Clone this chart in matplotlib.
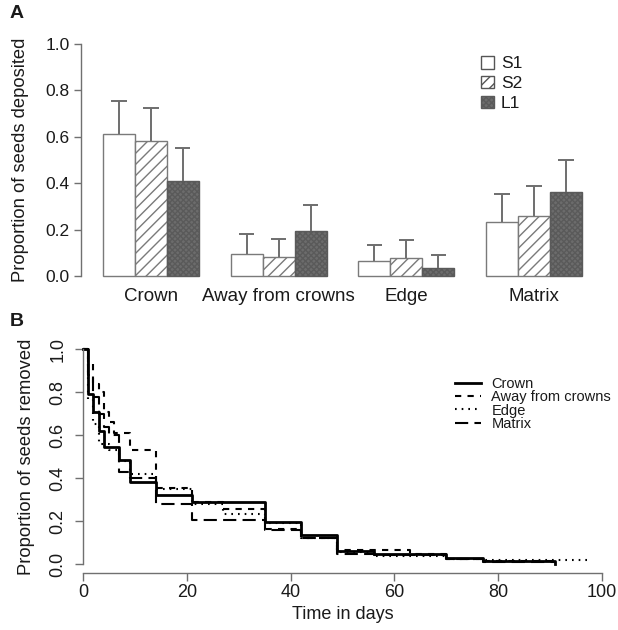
import matplotlib
matplotlib.use("Agg")
import matplotlib.pyplot as plt
from matplotlib.patches import Patch
import numpy as np

plt.rcParams['font.family'] = ['Liberation Sans', 'DejaVu Sans']
plt.rcParams['lines.scale_dashes'] = False

# ---------------- data ----------------
categories = ["Crown", "Away from crowns", "Edge", "Matrix"]
series_names = ["S1", "S2", "L1"]
s1_vals = [0.610, 0.095, 0.063, 0.231]
s2_vals = [0.581, 0.082, 0.078, 0.260]
l1_vals = [0.408, 0.192, 0.036, 0.362]
s1_upper = [0.755, 0.183, 0.134, 0.354]
s2_upper = [0.723, 0.159, 0.154, 0.387]
l1_upper = [0.553, 0.307, 0.091, 0.501]

crown_t = [0, 1, 2, 3, 4, 7, 9, 14, 21, 35, 42, 49, 56, 70, 77, 91]
crown_s = [1.0, 0.79, 0.71, 0.62, 0.545, 0.485, 0.38, 0.32, 0.29, 0.195, 0.135, 0.06, 0.045, 0.03, 0.015, 0.0]
away_t = [0, 1, 2, 3, 4, 5, 6, 9, 14, 21, 27, 35, 42, 49, 63, 70, 77, 91]
away_s = [1.0, 0.94, 0.84, 0.80, 0.71, 0.66, 0.61, 0.53, 0.355, 0.29, 0.255, 0.165, 0.12, 0.065, 0.045, 0.025, 0.012, 0.012]
edge_t = [0, 1, 2, 3, 5, 7, 9, 14, 21, 27, 35, 42, 49, 56, 70, 77, 98]
edge_s = [1.0, 0.77, 0.65, 0.56, 0.53, 0.48, 0.42, 0.35, 0.28, 0.235, 0.19, 0.12, 0.055, 0.035, 0.025, 0.02, 0.02]
matrix_t = [0, 1, 2, 3, 4, 5, 7, 9, 14, 21, 35, 42, 49, 56, 70, 77, 91]
matrix_s = [1.0, 0.88, 0.78, 0.70, 0.64, 0.60, 0.43, 0.40, 0.28, 0.205, 0.16, 0.12, 0.045, 0.04, 0.025, 0.01, 0.01]
curve_names = ["Crown", "Away from crowns", "Edge", "Matrix"]

# ---------------- figure ----------------
W, H = 618, 630
fig = plt.figure(figsize=(W / 100, H / 100), dpi=100)
TXT = '#1a1a1a'
AXC = '#707070'

def fx(px):
    return px / W

def fy(py):
    return 1 - py / H

# Panel A axes
axA = fig.add_axes([fx(81), fy(285.3), fx(601) - fx(81), fy(34.7) - fy(285.3)])
axA.set_ylim(-0.04, 1.04)
x_left = 1 - 22 / 31.93
x_right = 1 + (601 - 103) / 31.93
axA.set_xlim(x_left, x_right)

vals = [s1_vals, s2_vals, l1_vals]
uppers = [s1_upper, s2_upper, l1_upper]
faces = ['white', 'white', '#6c6c6c']
hatches = [None, '///', 'xxxxxx']
edgec = ['#7a7a7a', '#7a7a7a', '#5a5a5a']
handles = []
ng = len(categories)
for b in range(3):
    lefts = np.array([1 + 4 * g + b for g in range(ng)], dtype=float)
    axA.bar(lefts, vals[b], width=1.0, align='edge', color=faces[b],
            edgecolor=edgec[b], linewidth=1.0, hatch=hatches[b], zorder=2)
    centers = lefts + 0.5
    axA.vlines(centers, vals[b], uppers[b], color='#6e6e6e', linewidth=1.4, zorder=3)
    axA.hlines(uppers[b], centers - 0.24, centers + 0.24, color='#6e6e6e', linewidth=1.4, zorder=3)
    handles.append(Patch(facecolor=faces[b], edgecolor=edgec[b] if b == 2 else '#555555',
                         hatch=hatches[b], linewidth=1.0, label=series_names[b]))

for s in ['top', 'right', 'bottom']:
    axA.spines[s].set_visible(False)
axA.spines['left'].set_bounds(0, 1)
axA.spines['left'].set_color(AXC)
axA.spines['left'].set_linewidth(1.0)
axA.set_yticks([0, 0.2, 0.4, 0.6, 0.8, 1.0])
axA.set_yticklabels(['0.0', '0.2', '0.4', '0.6', '0.8', '1.0'])
axA.tick_params(axis='y', length=5, width=1.0, color=AXC, labelsize=12.5, labelcolor=TXT, pad=3)
group_centers = [1 + 4 * g + 1.5 for g in range(ng)]
axA.set_xticks(group_centers)
axA.set_xticklabels(categories)
axA.tick_params(axis='x', length=0, labelsize=13.5, labelcolor=TXT, pad=2)
axA.set_ylabel("Proportion of seeds deposited", fontsize=13.2, color=TXT, labelpad=12)

legA = axA.legend(handles=handles, loc='upper left', bbox_to_anchor=(fx(481), fy(56)),
                  bbox_transform=fig.transFigure, frameon=False, fontsize=12.5,
                  handlelength=0.75, handleheight=0.75, handletextpad=0.4,
                  labelspacing=0.25, borderaxespad=0, borderpad=0)
for t in legA.get_texts():
    t.set_color(TXT)

fig.text(fx(10), fy(14), "A", fontsize=14, fontweight='bold', color=TXT, va='center', ha='left')

# Panel B axes
axB = fig.add_axes([fx(83), fy(572.6), fx(602) - fx(83), fy(340.7) - fy(572.6)])
axB.set_xlim(0, 100)
axB.set_ylim(-0.04, 1.04)
styles = ['-', (0, (4.5, 4.5)), (0, (1.2, 3.6)), (0, (9.5, 4.5))]
widths = [2.0, 1.5, 1.5, 1.5]
curves = [(crown_t, crown_s), (away_t, away_s), (edge_t, edge_s), (matrix_t, matrix_s)]
for (tt, ss), ls, lw, nm in zip(curves, styles, widths, curve_names):
    axB.step(tt, ss, where='post', color='black', linestyle=ls, linewidth=lw, label=nm,
             clip_on=False)

for s in ['top', 'right']:
    axB.spines[s].set_visible(False)
axB.spines['left'].set_bounds(0, 1)
axB.spines['bottom'].set_bounds(0, 100)
for s in ['left', 'bottom']:
    axB.spines[s].set_color(AXC)
    axB.spines[s].set_linewidth(1.0)
axB.set_yticks([0, 0.2, 0.4, 0.6, 0.8, 1.0])
axB.set_yticklabels(['0.0', '0.2', '0.4', '0.6', '0.8', '1.0'], rotation=90, va='center')
axB.set_xticks([0, 20, 40, 60, 80, 100])
axB.tick_params(axis='y', length=6, width=1.0, color=AXC, labelsize=13, labelcolor=TXT, pad=6)
axB.tick_params(axis='x', length=6, width=1.0, color=AXC, labelsize=13, labelcolor=TXT, pad=2)
axB.set_xlabel("Time in days", fontsize=13, color=TXT, labelpad=4)
axB.set_ylabel("Proportion of seeds removed", fontsize=13.2, color=TXT, labelpad=10)

legB = axB.legend(loc='upper left', bbox_to_anchor=(fx(455), fy(377)),
                  bbox_transform=fig.transFigure, frameon=False, fontsize=10.5,
                  handlelength=1.75, handletextpad=0.75, labelspacing=-0.05,
                  borderaxespad=0, borderpad=0)
for t in legB.get_texts():
    t.set_color(TXT)

fig.text(fx(10), fy(322), "B", fontsize=14, fontweight='bold', color=TXT, va='center', ha='left')

fig.savefig("out.png", dpi=100)
